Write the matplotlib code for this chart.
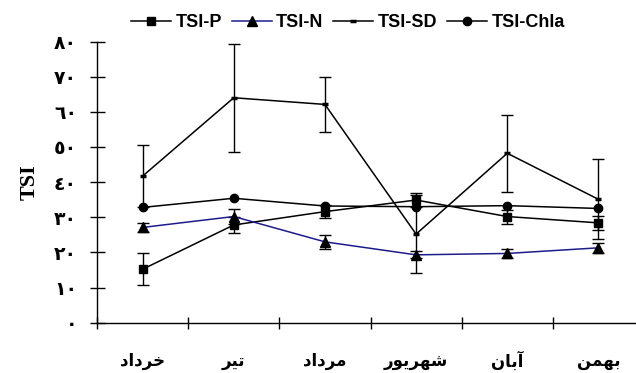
import matplotlib
matplotlib.use("Agg")
import matplotlib.pyplot as plt
from matplotlib.ticker import FixedLocator

# Persian months and trophic state index (mean +/- error) per sampling month
months = ['خرداد', 'تیر', 'مرداد', 'شهریور', 'آبان', 'بهمن']
tsi_p = [15.2, 27.8, 31.6, 34.9, 30.2, 28.4]
tsi_p_err = [4.6, 2.4, 1.9, 2.1, 2.0, 1.9]
tsi_n = [27.1, 30.2, 23.0, 19.3, 19.7, 21.3]
tsi_n_err = [1.4, 2.1, 2.0, 1.0, 1.3, 1.5]
tsi_sd = [41.7, 64.0, 62.1, 25.2, 48.2, 35.1]
tsi_sd_err = [8.8, 15.4, 7.8, 11.0, 11.0, 11.4]
tsi_chla = [32.8, 35.4, 33.2, 33.0, 33.3, 32.5]
yticks = [0, 10, 20, 30, 40, 50, 60, 70, 80]

# matplotlib has no Arabic shaping, so pick presentation forms by hand
# (isolated, final, initial, medial); None = letter never joins forward
FORMS = {
    'ا': (0xFE8D, 0xFE8E, None, None),
    'آ': (0xFE81, 0xFE82, None, None),
    'ب': (0xFE8F, 0xFE90, 0xFE91, 0xFE92),
    'ت': (0xFE95, 0xFE96, 0xFE97, 0xFE98),
    'خ': (0xFEA5, 0xFEA6, 0xFEA7, 0xFEA8),
    'د': (0xFEA9, 0xFEAA, None, None),
    'ر': (0xFEAD, 0xFEAE, None, None),
    'ش': (0xFEB5, 0xFEB6, 0xFEB7, 0xFEB8),
    'م': (0xFEE1, 0xFEE2, 0xFEE3, 0xFEE4),
    'ن': (0xFEE5, 0xFEE6, 0xFEE7, 0xFEE8),
    'ه': (0xFEE9, 0xFEEA, 0xFEEB, 0xFEEC),
    'و': (0xFEED, 0xFEEE, None, None),
    'ی': (0xFBFC, 0xFBFD, 0xFEF3, 0xFEF4),
}


def shape(word):
    out = []
    for i, ch in enumerate(word):
        f = FORMS[ch]
        prev_joins = i > 0 and FORMS[word[i - 1]][2] is not None
        next_joins = i < len(word) - 1 and f[2] is not None
        if prev_joins and next_joins:
            code = f[3]
        elif prev_joins:
            code = f[1]
        elif next_joins:
            code = f[2]
        else:
            code = f[0]
        out.append(chr(code))
    return ''.join(reversed(out))


def arabic_digits(n):
    return ''.join(chr(0x0660 + int(d)) for d in str(n))


x = list(range(1, len(months) + 1))

fig = plt.figure(figsize=(6.36, 3.73), dpi=100)
ax = fig.add_axes([0.1525, 0.1349, 0.8601, 0.7538])

ekw = dict(fmt='none', ecolor='black', elinewidth=1.0, capsize=4.5, capthick=1.0)
ax.errorbar(x, tsi_sd, yerr=tsi_sd_err, **ekw)
ax.errorbar(x, tsi_p, yerr=tsi_p_err, **ekw)
ax.errorbar(x, tsi_n, yerr=tsi_n_err, **ekw)

h_p, = ax.plot(x, tsi_p, color='black', lw=1.1, marker='s', ms=5.5, label='TSI-P')
h_n, = ax.plot(x, tsi_n, color='#1c1c8c', lw=1.1, marker='^', ms=6.5,
               mfc='black', mec='black', label='TSI-N')
h_sd, = ax.plot(x, tsi_sd, color='black', lw=1.1, marker='_', ms=5, mew=2.5,
                label='TSI-SD')
h_c, = ax.plot(x, tsi_chla, color='black', lw=1.1, marker='o', ms=6,
               label='TSI-Chla')

ax.set_xlim(0.5, len(months) + 0.5)
ax.set_ylim(0, 80)
for s in ['top', 'right']:
    ax.spines[s].set_visible(False)
for s in ['left', 'bottom']:
    ax.spines[s].set_linewidth(1.0)

ax.set_yticks(yticks)
ax.set_yticklabels([arabic_digits(v) for v in yticks],
                   fontfamily='DejaVu Sans', fontweight='bold', fontsize=13.5)
ax.tick_params(axis='y', direction='inout', length=10.8, width=1.0, pad=9)

ax.set_xticks(x)
ax.set_xticklabels([shape(m) for m in months], fontfamily='DejaVu Sans',
                   fontweight='bold', fontsize=12)
ax.tick_params(axis='x', which='major', length=0, pad=21)
ax.xaxis.set_minor_locator(FixedLocator([i + 0.5 for i in range(len(months) + 1)]))
ax.tick_params(axis='x', which='minor', direction='inout', length=8.6, width=1.0)

ax.set_ylabel('TSI', fontfamily='Liberation Serif', fontweight='bold', fontsize=16)
ax.yaxis.set_label_coords(-0.105, 0.5)

fig.legend(handles=[h_p, h_n, h_sd, h_c], loc='upper center',
           bbox_to_anchor=(0.547, 1.005), ncol=4, frameon=False,
           prop={'family': 'Liberation Sans', 'weight': 'bold', 'size': 13},
           handlelength=2.2, handletextpad=0.25, columnspacing=0.55)

fig.savefig('out.png', dpi=100)
